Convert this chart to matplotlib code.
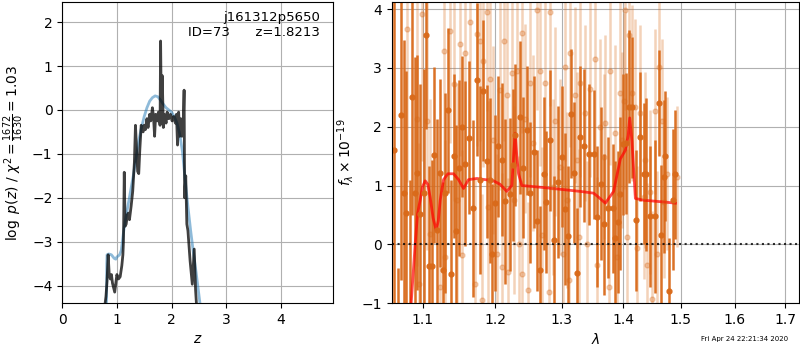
import matplotlib
matplotlib.use("Agg")
import matplotlib.pyplot as plt
from matplotlib.ticker import FormatStrFormatter, NullLocator

# ---- left panel: log p(z) ----
z_pz = [0.78, 0.80, 0.82, 0.84, 0.86, 0.88, 0.90, 0.92, 0.96, 0.98, 1.00, 1.03, 1.06,
        1.09, 1.11, 1.12, 1.135, 1.15, 1.17, 1.19, 1.21, 1.23, 1.26, 1.29, 1.32, 1.34,
        1.36, 1.38, 1.40, 1.42, 1.445, 1.46, 1.48, 1.50, 1.52, 1.55, 1.57, 1.60, 1.62,
        1.65, 1.67, 1.69, 1.71, 1.74, 1.76, 1.79, 1.80, 1.815, 1.83, 1.85, 1.87, 1.90,
        1.92, 1.95, 1.98, 2.01, 2.04, 2.07, 2.09, 2.11, 2.13, 2.15, 2.17, 2.19, 2.21,
        2.23, 2.24, 2.26, 2.28, 2.30, 2.34, 2.38, 2.415, 2.44, 2.46]
logp = [-4.45, -4.25, -3.9, -3.3, -3.75, -3.85, -3.75, -3.95, -4.15, -3.95, -3.75, -3.85,
        -3.8, -3.55, -3.3, -3.0, -1.42, -2.65, -2.6, -2.4, -2.35, -2.5, -2.2, -1.85, -1.2,
        -0.35, -0.9, -1.4, -1.45, -0.9, -0.35, -0.45, -0.5, -0.35, -0.45, -0.2, -0.4,
        -0.1, -0.25, 0.05, -0.15, -0.6, -0.1, -0.25, -0.05, -0.35, 1.57, -0.3, 0.78,
        -0.4, -0.1, -0.3, -0.05, -0.2, -0.1, -0.25, -0.15, -0.3, -0.1, -0.8, -0.05,
        -0.6, -0.2, -0.6, -0.55, 0.45, -2.0, -1.5, -2.6, -2.75, -3.44, -3.97, -3.17,
        -4.1, -4.5]

z_smooth = [0.81, 0.815, 0.82, 0.85, 0.90, 0.95, 0.98, 1.0, 1.05, 1.08, 1.12, 1.15, 1.2,
            1.25, 1.3, 1.35, 1.4, 1.45, 1.5, 1.55, 1.6, 1.65, 1.7, 1.75, 1.8, 1.85, 1.9,
            1.95, 2.0, 2.05, 2.1, 2.15, 2.2, 2.25, 2.3, 2.35, 2.4, 2.45, 2.5, 2.53]
logp_smooth = [-4.45, -3.5, -3.3, -3.28, -3.3, -3.38, -3.4, -3.35, -3.3, -3.2, -2.8,
               -2.55, -2.2, -1.85, -1.5, -1.1, -0.7, -0.4, -0.15, 0.05, 0.2, 0.28, 0.32,
               0.3, 0.22, 0.13, 0.05, 0.0, -0.05, -0.15, -0.3, -0.55, -0.95, -1.6, -2.2,
               -2.75, -3.25, -3.7, -4.2, -4.5]

# ---- right panel: spectrum ----
wave = [1.063, 1.068, 1.0725, 1.076, 1.079, 1.083, 1.086, 1.090, 1.093, 1.097, 1.102,
        1.104, 1.108, 1.112, 1.1155, 1.119, 1.1236, 1.127, 1.130, 1.1335, 1.138, 1.142,
        1.1455, 1.1486, 1.153, 1.1578, 1.1624, 1.1685, 1.174, 1.178, 1.1835, 1.188,
        1.193, 1.1955, 1.200, 1.205, 1.210, 1.2147, 1.222, 1.226, 1.2293, 1.2358, 1.241,
        1.2467, 1.2517, 1.2577, 1.262, 1.2668, 1.2719, 1.276, 1.2821, 1.2883, 1.2935,
        1.3003, 1.305, 1.3097, 1.315, 1.3187, 1.3240, 1.3283, 1.3347, 1.3427, 1.3508,
        1.3562, 1.3627, 1.3682, 1.3737, 1.3825, 1.3864, 1.3903, 1.3947, 1.400, 1.4048,
        1.4088, 1.4144, 1.4218, 1.4287, 1.4344, 1.4390, 1.4448, 1.4547, 1.4606, 1.4653,
        1.4694, 1.4724, 1.4790, 1.4860, 1.4902]
flux = [1.6, -1.9, 2.2, 0.88, 0.54, -1.2, 2.5, 0.88, 1.22, 0.52, 0.88, 3.56, -0.37, -0.37,
        1.52, 0.24, 1.22, -0.44, 0.875, 2.28, -0.51, 1.5, 0.23, 1.3, 2.0, 1.37, 1.81, 0.61,
        2.8, 1.1, 2.61, 1.41, 1.09, -0.17, 0.7, 1.67, 1.44, 0.73, 0.85, 1.35, 1.86, 2.16,
        1.3, 1.94, 0.875, 1.57, 0.4, -0.44, 1.2, 0.72, 1.77, 0.07, 1.06, 1.49, 0.6, 0.14,
        2.22, 1.22, -0.49, 1.83, 1.68, 1.53, 1.53, 0.47, 1.03, 0.34, 0.62, 0.61, 0.11,
        0.38, 0.86, 1.7, 1.72, 2.34, 2.33, 0.41, 1.83, 1.2, 1.19, 0.48, 0.48, 2.41, 0.15,
        1.15, 1.5, -0.8, 0.76, 1.19]
flux_err = [3.0, 1.5, 2.8, 2.6, 2.4, 2.3, 2.0, 2.3, 2.0, 2.2, 2.1, 1.6, 1.7, 1.8, 1.5, 1.9,
            1.6, 1.5, 1.7, 1.4, 1.6, 1.4, 1.8, 1.5, 1.2, 1.4, 1.3, 1.5, 1.3, 1.6, 1.2, 1.3,
            1.4, 1.2, 1.5, 1.2, 1.3, 1.4, 1.3, 1.3, 1.2, 1.3, 1.2, 1.1, 1.2, 1.3, 1.2, 1.1,
            1.3, 1.2, 1.2, 1.1, 1.3, 1.2, 1.3, 1.2, 1.1, 1.2, 1.1, 1.2, 1.3, 1.2, 1.1, 1.2,
            1.3, 1.2, 1.2, 1.1, 1.3, 1.2, 1.3, 1.2, 1.2, 1.3, 1.2, 1.2, 1.1, 1.2, 1.3, 1.2,
            1.3, 0.9, 1.2, 1.3, 1.1, 0.9, 1.2, 1.1]

wave2 = [1.0795, 1.0925, 1.0947, 1.0991, 1.1057, 1.1101, 1.1236, 1.1281, 1.1303, 1.1372,
         1.1417, 1.1463, 1.1509, 1.1532, 1.1578, 1.1647, 1.1717, 1.1741, 1.1788, 1.1812,
         1.1835, 1.1882, 1.1905, 1.1930, 1.1978, 1.2026, 1.2074, 1.2098, 1.2123, 1.2171,
         1.2195, 1.2244, 1.2280, 1.2318, 1.2350, 1.2393, 1.2402, 1.2441, 1.2490, 1.2517,
         1.2560, 1.2617, 1.2668, 1.2700, 1.2745, 1.2796, 1.2821, 1.2860, 1.2899, 1.2976,
         1.3020, 1.3055, 1.3090, 1.3108, 1.3134, 1.3213, 1.3240, 1.3275, 1.3293, 1.3373,
         1.3400, 1.3454, 1.3535, 1.3560, 1.3616, 1.3672, 1.3699, 1.3754, 1.3781, 1.3864,
         1.3890, 1.3947, 1.3975, 1.4003, 1.4032, 1.4060, 1.4088, 1.4144, 1.4202, 1.4230,
         1.4287, 1.4344, 1.4373, 1.4402, 1.4460, 1.4489, 1.4547, 1.4577, 1.4606, 1.4665,
         1.4694, 1.4754, 1.4935]
flux2 = [3.66, 2.13, -0.67, 3.92, 2.1, 0.18, -0.73, 3.29, -0.22, 3.63, 2.73, 0.75, 3.41,
         -0.19, 3.26, 3.78, -0.67, 3.57, 3.45, -0.95, 3.11, 3.96, 0.64, 2.81, 1.77, -0.16,
         2.63, -0.39, 3.45, 2.54, -0.47, 2.91, 0.75, 2.94, 0.01, -0.5, 3.59, 2.14, -0.78,
         2.75, 1.72, 3.99, 2.94, 0.15, 2.74, -0.81, 3.95, 0.98, 2.09, 1.32, -0.16, 3.02,
         0.75, -0.61, 3.25, 2.54, 1.43, 0.125, 2.74, 2.23, 0.01, 2.65, 3.15, -0.36, 2.0,
         1.49, 2.06, -0.73, 2.95, 1.89, -0.22, 2.57, 1.77, 2.44, 3.99, 0.125, 3.56, 2.57,
         2.34, -0.07, 2.23, 0.81, 1.43, -0.36, 0.89, -0.93, 2.26, -0.16, 3.02, 2.09, 0.72,
         1.2, 1.15]
flux2_err = [2.6, 2.5, 2.4, 2.5, 2.2, 2.3, 2.0, 2.1, 2.0, 1.9, 2.0, 2.0, 1.9, 1.8, 1.9,
             1.8, 1.8, 1.9, 1.7, 1.8, 1.8, 1.7, 1.8, 1.7, 1.6, 1.7, 1.7, 1.6, 1.7, 1.6,
             1.6, 1.7, 1.6, 1.6, 1.5, 1.6, 1.7, 1.6, 1.5, 1.6, 1.5, 1.7, 1.6, 1.5, 1.6,
             1.5, 1.6, 1.5, 1.6, 1.5, 1.5, 1.6, 1.5, 1.4, 1.6, 1.5, 1.5, 1.5, 1.6, 1.5,
             1.4, 1.5, 1.6, 1.5, 1.5, 1.4, 1.5, 1.5, 1.6, 1.5, 1.5, 1.6, 1.5, 1.5, 1.7,
             1.5, 1.6, 1.5, 1.5, 1.4, 1.5, 1.4, 1.5, 1.4, 1.4, 1.5, 1.4, 1.4, 1.5, 1.4,
             1.3, 1.3, 1.2]

model_wave = [1.0851, 1.0903, 1.0934, 1.0969, 1.1000, 1.1035, 1.1070, 1.1101, 1.1140,
              1.1182, 1.1210, 1.1236, 1.1281, 1.1340, 1.1417, 1.1486, 1.1555, 1.1624,
              1.1741, 1.1978, 1.2074, 1.2171, 1.2244, 1.2270, 1.2293, 1.2318, 1.2343,
              1.2393, 1.2771, 1.3293, 1.3508, 1.359, 1.3699, 1.3836, 1.3947, 1.4032,
              1.4080, 1.4106, 1.4144, 1.4202, 1.4344, 1.4694, 1.4902]
model_flux = [-1.0, 0.0, 0.52, 0.75, 0.98, 1.08, 1.02, 0.8, 0.45, 0.24, 0.4, 0.75, 1.1,
              1.2, 1.2, 1.1, 0.95, 1.1, 1.12, 1.08, 1.02, 0.9, 1.0, 1.5, 1.89, 1.5, 1.2,
              1.0, 0.96, 0.9, 0.87, 0.8, 0.7, 0.9, 1.45, 1.6, 1.85, 2.15, 1.75, 0.78, 0.75,
              0.72, 0.7]

orange = '#d96a1a'

fig = plt.figure(figsize=(8, 3.5), dpi=100)

ax = fig.add_axes([0.0778, 0.134, 0.3388, 0.86])
ax.plot(z_smooth, logp_smooth, color='#1f77b4', alpha=0.5, lw=2)
ax.plot(z_pz, logp, color='k', alpha=0.75, lw=2)
ax.set_xlim(0, 4.96)
ax.set_ylim(-4.40, 2.456)
ax.set_xticks([0, 1, 2, 3, 4])
ax.grid()
ax.set_xlabel(r'$z$')
ax.set_ylabel(r'$\log\ p(z)$' + ' / ' + r'$\chi^2=\frac{1672}{1630}=1.03$')
ax.text(0.95, 0.97, 'j161312p5650\nID=73      z=1.8213', ha='right', va='top',
        transform=ax.transAxes, fontsize=9.5)

ax2 = fig.add_axes([0.4896, 0.134, 0.5095, 0.86])
ax2.errorbar(wave2, flux2, yerr=flux2_err, color=orange, alpha=0.3, marker='o', ms=3.5,
             linestyle='none', elinewidth=1.8)
ax2.errorbar(wave, flux, yerr=flux_err, color=orange, alpha=0.95, marker='o', ms=3.5,
             linestyle='none', elinewidth=1.8)
ax2.plot(model_wave, model_flux, color='red', alpha=0.7, lw=2)
ax2.axhline(0, color='k', linestyle=':', lw=1.5, alpha=0.8)
ax2.set_xscale('log')
ax2.set_xlim(1.06, 1.729)
ax2.set_ylim(-1.0, 4.12)
ax2.set_xticks([1.1, 1.2, 1.3, 1.4, 1.5, 1.6, 1.7])
ax2.xaxis.set_major_formatter(FormatStrFormatter('%.1f'))
ax2.xaxis.set_minor_locator(NullLocator())
ax2.grid()
ax2.set_xlabel(r'$\lambda$')
ax2.set_ylabel(r'$f_\lambda\times10^{-19}$')

fig.text(0.985, 0.03, 'Fri Apr 24 22:21:34 2020', ha='right', va='center', fontsize=5)

fig.savefig('out.png', dpi=100)
